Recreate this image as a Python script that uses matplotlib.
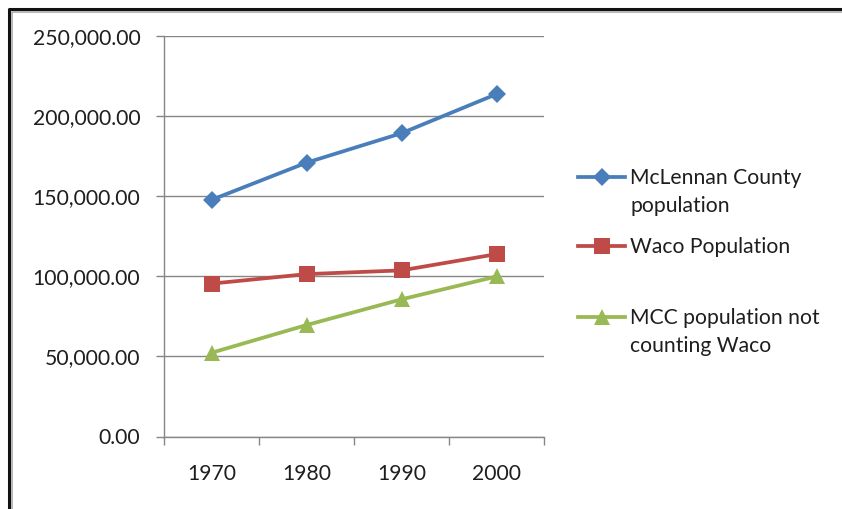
import matplotlib
matplotlib.use("Agg")
import matplotlib.pyplot as plt
from matplotlib.lines import Line2D
from matplotlib.ticker import FuncFormatter, FixedLocator

years = ["1970", "1980", "1990", "2000"]
mclennan = [147553, 170755, 189123, 213517]
waco = [95326, 101261, 103590, 113726]
not_waco = [52227, 69494, 85533, 99791]
labels = ["McLennan County\npopulation", "Waco Population", "MCC population not\ncounting Waco"]

W, H = 842, 509
fig = plt.figure(figsize=(W / 100, H / 100), dpi=100)
plt.rcParams['font.family'] = ['Lato', 'DejaVu Sans']
FS = 15.2
TXT = '#1e1e1e'

ax = fig.add_axes([164 / W, 1 - 436.5 / H, (544 - 164) / W, (436.5 - 35.6) / H])
x = list(range(len(years)))
colors = ['#4A7EBB', '#BE4B48', '#98B954']
markers = ['D', 's', '^']
msizes = [9.5, 11, 11.5]
for ys, c, m, ms in zip([mclennan, waco, not_waco], colors, markers, msizes):
    ax.plot(x, ys, color=c, lw=2.7, marker=m, markersize=ms, markeredgewidth=0,
            solid_capstyle='round', zorder=3, clip_on=False)

ax.set_xlim(-0.5, 3.5)
ax.set_ylim(0, 250000)
ax.set_yticks([0, 50000, 100000, 150000, 200000, 250000])
ax.yaxis.set_major_formatter(FuncFormatter(lambda v, p: f"{v:,.2f}"))
ax.grid(axis='y', color='#868686', lw=1.0, zorder=1)
ax.set_xticks(x)
ax.set_xticklabels(years)
ax.xaxis.set_minor_locator(FixedLocator([-0.5, 0.5, 1.5, 2.5, 3.5]))
ax.tick_params(axis='x', which='major', length=0, pad=20, labelsize=FS, labelcolor=TXT)
ax.tick_params(axis='x', which='minor', length=6, width=1, color='#868686', direction='out')
ax.tick_params(axis='y', length=6, width=1, color='#868686', pad=11, labelsize=FS, labelcolor=TXT)
for s in ['top', 'right']:
    ax.spines[s].set_visible(False)
for s in ['left', 'bottom']:
    ax.spines[s].set_color('#868686')
    ax.spines[s].set_linewidth(1.0)

# legend (manual)
entries_y = [177, 246, 317]
for lab, c, m, ms, yy in zip(labels, colors, markers, msizes, entries_y):
    yf = 1 - yy / H
    fig.add_artist(Line2D([578 / W, 625 / W], [yf, yf], color=c, lw=2.7,
                          transform=fig.transFigure))
    fig.add_artist(Line2D([601.5 / W], [yf], color=c, marker=m, markersize=ms,
                          markeredgewidth=0, transform=fig.transFigure))
    fig.text(630 / W, yf + 9 / H, lab, ha='left', va='top', fontsize=FS,
             color=TXT, linespacing=1.5)

# frame
fig.add_artist(Line2D([8.5 / W, 8.5 / W, 1], [0, 1 - 8.5 / H, 1 - 8.5 / H], color='#111111', lw=2.2,
                      transform=fig.transFigure))
fig.add_artist(Line2D([11.5 / W, 11.5 / W, 1], [0, 1 - 11.5 / H, 1 - 11.5 / H], color='#aaaaaa', lw=1.2,
                      transform=fig.transFigure))

fig.savefig("out.png", dpi=100)
